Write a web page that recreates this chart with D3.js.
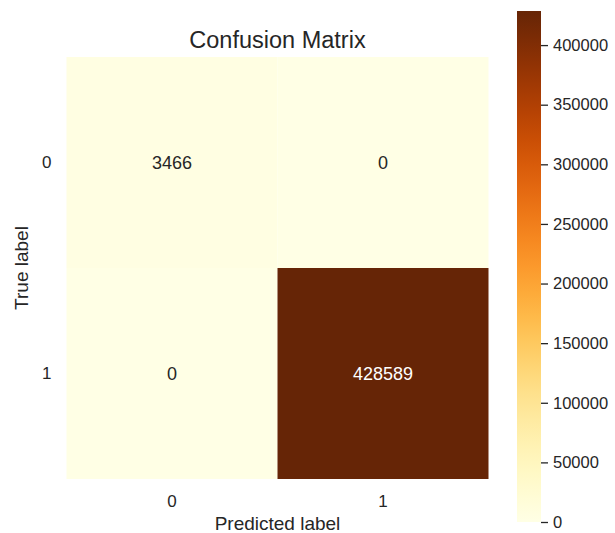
<!DOCTYPE html>
<html><head><meta charset="utf-8">
<script src="https://cdn.jsdelivr.net/npm/d3@7"></script>
<style>body{margin:0;background:#fff;}svg{display:block;font-family:"Liberation Sans",Arial,sans-serif;}</style>
</head><body>
<svg id="c" width="615" height="533"></svg>
<script>
const predictedLabels = ["0", "1"];
const trueLabels = ["0", "1"];
const matrixValues = [[3466, 0], [0, 428589]];
const colorbarTicks = [0, 50000, 100000, 150000, 200000, 250000, 300000, 350000, 400000];
const title = "Confusion Matrix";

const svg = d3.select("#c");
const textColor = "#262626";
const plot = {left: 66.5, right: 488.5, top: 57, bottom: 479};
const cb = {left: 517, right: 541, top: 11, bottom: 522};

const x = d3.scaleBand().domain(predictedLabels).range([plot.left, plot.right]);
const y = d3.scaleBand().domain(trueLabels).range([plot.top, plot.bottom]);
const vmax = d3.max(matrixValues.flat());
const color = d3.scaleSequential(d3.interpolateYlOrBr).domain([0, vmax]);

const cells = [];
trueLabels.forEach((t, i) => predictedLabels.forEach((p, j) => cells.push({t, p, v: matrixValues[i][j]})));

svg.append("g").selectAll("rect").data(cells).join("rect")
  .attr("x", d => x(d.p)).attr("y", d => y(d.t))
  .attr("width", x.bandwidth()).attr("height", y.bandwidth())
  .attr("fill", d => color(d.v));

svg.append("g").selectAll("text").data(cells).join("text")
  .attr("x", d => x(d.p) + x.bandwidth() / 2)
  .attr("y", d => y(d.t) + y.bandwidth() / 2)
  .attr("dy", "0.35em").attr("text-anchor", "middle")
  .attr("font-size", 18)
  .attr("fill", d => d.v / vmax > 0.5 ? "#ffffff" : "#262626")
  .text(d => d.v);

// axes
const xAxis = svg.append("g").attr("transform", `translate(0,${plot.bottom})`)
  .call(d3.axisBottom(x).tickSize(0).tickPadding(16));
const yAxis = svg.append("g").attr("transform", `translate(${plot.left},0)`)
  .call(d3.axisLeft(y).tickSize(0).tickPadding(15));
[xAxis, yAxis].forEach(a => {
  a.select(".domain").remove();
  a.selectAll("text").attr("font-size", 17).attr("fill", textColor).attr("font-family", "Liberation Sans, Arial, sans-serif");
});

svg.append("text").attr("x", (plot.left + plot.right) / 2).attr("y", 530)
  .attr("text-anchor", "middle").attr("font-size", 19).attr("fill", textColor).text("Predicted label");
svg.append("text").attr("transform", `translate(28,${(plot.top + plot.bottom) / 2}) rotate(-90)`)
  .attr("text-anchor", "middle").attr("font-size", 19).attr("fill", textColor).text("True label");
svg.append("text").attr("x", (plot.left + plot.right) / 2).attr("y", 48)
  .attr("text-anchor", "middle").attr("font-size", 23.5).attr("fill", textColor).text(title);

// colorbar
const defs = svg.append("defs");
const grad = defs.append("linearGradient").attr("id", "cbg").attr("x1", 0).attr("y1", 1).attr("x2", 0).attr("y2", 0);
d3.range(0, 1.0001, 0.05).forEach(t => grad.append("stop").attr("offset", t).attr("stop-color", d3.interpolateYlOrBr(t)));
svg.append("rect").attr("x", cb.left).attr("y", cb.top).attr("width", cb.right - cb.left).attr("height", cb.bottom - cb.top)
  .attr("fill", "url(#cbg)");
const cy = d3.scaleLinear().domain([0, vmax]).range([cb.bottom, cb.top]);
const cAxis = svg.append("g").attr("transform", `translate(${cb.right},0)`)
  .call(d3.axisRight(cy).tickValues(colorbarTicks).tickFormat(d3.format("d")).tickSize(7).tickPadding(5));
cAxis.select(".domain").remove();
cAxis.selectAll("line").attr("stroke", textColor).attr("stroke-width", 1.3);
cAxis.selectAll("text").attr("font-size", 16.5).attr("fill", textColor).attr("font-family", "Liberation Sans, Arial, sans-serif");
</script>
</body></html>
